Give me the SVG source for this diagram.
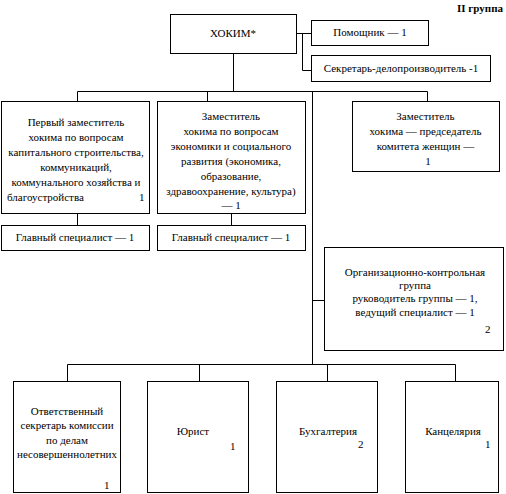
<svg xmlns="http://www.w3.org/2000/svg" width="506" height="494" viewBox="0 0 506 494" font-family="Liberation Serif, DejaVu Serif, serif" font-size="11">
<style>
rect{fill:#fff;stroke:#000;stroke-width:1}
.c{fill:none;stroke:#000;stroke-width:1}
text{font-family:'Liberation Serif','DejaVu Serif',serif;font-size:11px;fill:#000}
.m{text-anchor:middle}
.e{text-anchor:end}
.b{font-weight:bold}
</style>
<rect x="0" y="0" width="506" height="494" style="stroke:none"/>
<text class="e b" x="503" y="12">II  группа</text>
<g id="connectors">
<path class="c" d="M296.5 33.5H311.5M302.5 33.5V70.5H311.5"/>
<path class="c" d="M233.5 53V91.5M77.5 101V91.5H427.5V101M207.5 91.5V101M312.5 91.5V364.5"/>
<path class="c" d="M77.5 213V225M231.5 213V225"/>
<path class="c" d="M312.5 300.5H324"/>
<path class="c" d="M67.5 381V364.5H455.5V381M199.5 364.5V381M327.5 364.5V381"/>
</g>
<g id="hokim"><rect x="170.5" y="14.5" width="126" height="39"/><text class="m" x="233" y="37">ХОКИМ*</text></g>
<g id="pomoshnik"><rect x="311.5" y="20.5" width="117" height="25"/><text class="m" x="370" y="36">Помощник — 1</text></g>
<g id="sekretar"><rect x="311.5" y="55.5" width="179" height="26"/><text class="m" x="401" y="72">Секретарь-делопроизводитель -1</text></g>
<g id="zam1"><rect x="1.5" y="101.5" width="148" height="112"/>
<text class="m" x="76" y="126">Первый заместитель</text>
<text class="m" x="76" y="141">хокима по вопросам</text>
<text class="m" x="76" y="156">капитального строительства,</text>
<text class="m" x="76" y="171">коммуникаций,</text>
<text class="m" x="76" y="186">коммунального хозяйства и</text>
<text x="7" y="201">благоустройства</text><text x="139" y="201">1</text></g>
<g id="zam2"><rect x="157.5" y="101.5" width="148" height="112"/>
<text class="m" x="231" y="119.5">Заместитель</text>
<text class="m" x="231" y="134.5">хокима по вопросам</text>
<text class="m" x="231" y="149.5">экономики и социального</text>
<text class="m" x="231" y="164.5">развития (экономика,</text>
<text class="m" x="231" y="179.5">образование,</text>
<text class="m" x="231" y="194.5">здравоохранение, культура)</text>
<text class="m" x="231" y="209">— 1</text></g>
<g id="zam3"><rect x="352.5" y="101.5" width="147" height="70"/>
<text class="m" x="425.5" y="119.5">Заместитель</text>
<text class="m" x="425.5" y="134.5">хокима — председатель</text>
<text class="m" x="425.5" y="149.5">комитета женщин —</text>
<text class="m" x="428" y="164.5">1</text></g>
<g id="glspec1"><rect x="1.5" y="225.5" width="148" height="25"/><text class="m" x="75" y="241">Главный специалист  — 1</text></g>
<g id="glspec2"><rect x="157.5" y="225.5" width="148" height="25"/><text class="m" x="231" y="241">Главный специалист  — 1</text></g>
<g id="org"><rect x="324.5" y="247.5" width="179" height="103"/>
<text class="m" x="415" y="275.5">Организационно-контрольная</text>
<text class="m" x="415" y="289">группа</text>
<text class="m" x="415" y="302">руководитель группы — 1,</text>
<text class="m" x="415" y="315.5">ведущий специалист — 1</text>
<text x="485" y="333">2</text></g>
<g id="otvet"><rect x="13.5" y="381.5" width="107" height="111"/>
<text class="m" x="67" y="414.5">Ответственный</text>
<text class="m" x="67" y="429">секретарь комиссии</text>
<text class="m" x="67" y="443.5">по делам</text>
<text class="m" x="67" y="458">несовершеннолетних</text>
<text x="104" y="489">1</text></g>
<g id="yurist"><rect x="147.5" y="381.5" width="101" height="111"/>
<text class="m" x="193" y="435">Юрист</text><text x="230" y="449.5">1</text></g>
<g id="buh"><rect x="276.5" y="381.5" width="101" height="111"/>
<text class="m" x="328" y="435">Бухгалтерия</text><text x="358" y="448">2</text></g>
<g id="kanc"><rect x="405.5" y="381.5" width="93" height="111"/>
<text class="m" x="453" y="435">Канцелярия</text><text x="485" y="448">1</text></g>
</svg>
